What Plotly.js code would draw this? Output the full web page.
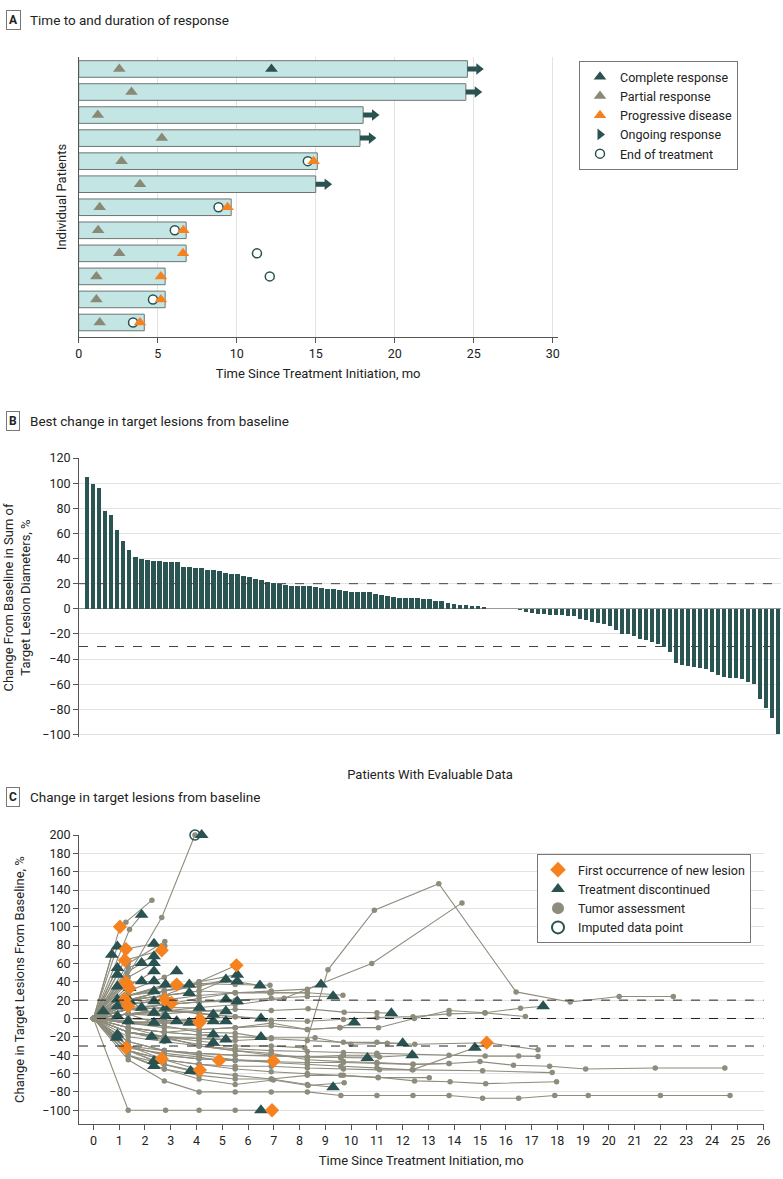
<!DOCTYPE html>
<html><head><meta charset="utf-8">
<script src="https://cdn.plot.ly/plotly-3.0.1.min.js"></script>
<style>body{margin:0;background:#fff}#chart{width:783px;height:1179px}</style>
</head><body><div id="chart"></div>
<script>
// ---------- Panel A: time to and duration of response ----------
const aRows = [1,2,3,4,5,6,7,8,9,10,11,12];
const aDuration = [24.6,24.5,18.0,17.8,15.1,15.0,9.65,6.8,6.8,5.47,5.47,4.15];
const aPartialMonth = [2.57,3.34,1.21,5.26,2.71,3.88,1.33,1.23,2.57,1.12,1.12,1.33];
const aCompleteRows = [1];
const aCompleteMonth = [12.2];
const aProgressRows = [5,7,8,9,10,11,12];
const aProgressMonth = [14.87,9.42,6.62,6.6,5.2,5.2,3.88];
const aEndRows = [5,7,8,9,10,11,12];
const aEndMonth = [14.5,8.85,6.08,11.28,12.09,4.7,3.44];
const aOngoingRows = [1,2,3,4,6];
const aXTicks = [0,5,10,15,20,25,30];

// ---------- Panel B: best change from baseline ----------
const bBestChange = [
 105,99,96,78,75,63,54,47,41,40,39,38,38,37.6,37.4,37,33.4,33,32.8,32.3,
 31,30.5,30,28.3,28,27.5,26.5,25,23.8,22.8,21.2,20.4,20.1,18.8,18.3,18.3,18,18,17.5,16.2,
 16,15.5,15,14,13.5,13.5,13.5,13,12,
 11,10.5,9.6,9,8.8,8.5,8.3,8,7.5,6.4,5.9,4.3,3.5,3.2,2.7,2.4,2.1,1.6,
 0,0,0,0,0,
 -1.3,-2.4,-3.5,-4,-4.5,-4.8,-5,-5.3,-5.6,-6.1,-8.3,-9,-10.4,-11,-12,-13.6,-16.8,-19.7,-20.3,-22,
 -24.3,-24.8,-26.4,-28,-30.1,-34.7,-43.5,-44.8,-45.3,-46,-46.7,-48,-50.4,-52.5,-54,-54.7,-55.2,-55.7,-58,-59.5,
 -72,-79.2,-86.7,-100
];
const bPatients = bBestChange.map((v,i)=>i+1);
const bThresholds = [20,-30];
const bYTicks = [-100,-80,-60,-40,-20,0,20,40,60,80,100,120];

// ---------- Panel C: change in target lesions over time ----------
const cMonths = [
 [0,1.35,2.75,4.1,5.5,6.9,8.2,9.1,10.9,13.4,16.4,18.5,20.4,22.5],
 [0,1.35,2.75,4.1,5.5,7.4,10.8,14.3],
 [0,1.35,2.75,4.1,5.5,6.9,8.3,9.6,11,12.4,13.8,15.1,16.5,17.9,19.2,22,24.7],
 [0,1.35,2.75,4.1,5.5,6.9,8.3,9.7,11,12.4,13.8,15.0,16.3,17.7,19.1,21.8,24.5],
 [0,1.35,2.75,4.1,5.5,6.9,8.3,9.6,11.05,12.46,13.84,15.22,17.97],
 [0,1.35,2.75,4.1,5.5,6.9,8.3,9.7,11.1,12.4,15.1,17.8],
 [0,1.35,2.75,4.1,5.5,6.9,8.3,9.56,11.06,12.45,13.8,15.19,16.57,17.45],
 [0,1.35,2.75,4.1,5.5,6.9,8.33,9.73,11,11.56],
 [0,1.35,2.75,4.1,5.5,6.9,8.3,9.68],
 [0,1.35,2.75,4.1,5.5,6.9,8.3,9.3],
 [0,1.35,2.75,4.1,5.5,6.9,8.3,8.83],
 [0,1.35,2.75,4.1,5.5,6.9,8.6,9.99,11.4,12.0],
 [0,1.35,2.75,4.1,5.5,6.9,8.3,9.7,11,12.47,15.26,17.25],
 [0,1.35,2.75,4.1,5.5,6.9,8.3,9.6,11.0,12.37,14.8],
 [0,1.35,2.75,4.1,5.5,6.9,8.3,9.6,10.63],
 [0,1.35,2.75,4.1,5.5,6.9,8.3,9.6,11.1,12.37],
 [0,1.35,2.75,4.1,5.5,6.9,8.3,9.3],
 [0,1.35,2.75,4.1,5.5,6.98,8.33,9.73],
 [0,1.35,2.8,4.1,5.5,6.5,6.93],
 [0,1.35,2.75,4.1,5.5,6.5],
 [0,1.35,2.75,4.1,5.5,6.5],
 [0,1.35,2.75,4.1,5.5,6.98],
 [0,1.35,2.75,4.1,5.5,6.9,8.3,9.56,10.12],
 [0,1.35,2.75,4.1,5.5,6.9,8.3,9.7,11.05,13.03],
 [0,1.35,2.75,4.1,5.5,6.9,8.3,9.7,11.0,12.4,13.8,15.2,16.5,17.25],
 [0,1.35,2.75,4.1,5.5,6.9,8.3,9.7,11,12.4,13.8,15.2,16.76],
 [0,1.35,2.75,4.1,5.5,6.9,8.3,9.7,11.0,12.4,13.8],
 [0,1.35,2.75,4.1,5.5,6.85,8.3],
 [0,1.35,2.75,4.1,5.5,6.85],
 [0,1.35,2.75,4.1,5.14,6.46],
 [0,1.35,2.75,4.1,5.5,6.9,8.3,9.7,11],
 [0,0.38],[0,0.93],[0,0.93],[0,0.93],[0,0.93],[0,0.93],[0,0.9],[0,1.41],[0,1.41],[0,1.35],
 [0,1.3,1.87],[0,1.3,1.87],[0,1.26,2.35],[0,1.35,2.35],[0,1.22,2.35],[0,1.35,2.35],[0,1.35,2.35],
 [0,1.35,2.35],[0,1.35,2.35],[0,1.35,2.35],[0,1.35,2.26],[0,1.35,2.35],[0,1.35,2.35],
 [0,1.35,2.75,3.23],[0,1.35,2.8],[0,1.35,2.8],[0,1.35,2.8],[0,1.35,2.8],[0,1.35,2.75,3.23],
 [0,1.35,2.75,3.72],[0,1.35,2.75,3.72],[0,1.35,2.75,3.72],[0,1.35,2.75,3.77],[0,1.35,2.75,4.11],
 [0,1.35,2.75,4.1,4.65],[0,1.35,2.75,4.1,4.65],[0,1.35,2.75,4.1,4.65],[0,1.35,2.75,4.1,4.65],
 [0,1.35,2.75,4.1,5.14],[0,1.35,2.75,4.1,5.14],[0,1.35,2.75,4.1,5.14],[0,1.35,2.75,4.1,5.14],[0,1.35,2.75,4.1,5.14],
 [0,1.35,2.75,4.1,5.58],[0,1.35,2.75,4.1,5.55],[0,1.35,2.75,4.1,5.58],[0,1.35,2.75,4.1,5.58],
 [0,1.35,2.75,3.03],[0,1.35,2.65],[0,1.26,2.75,4.1,4.88],[0,1.35,2.75,4.13],[0,1.35,2.75,4.13],
 [0,1.35,2.77],[0,1.35,3.23],[0,0.71],[0,0.93],[0,1.26,2.35],[0,1.22,2.65,2.77],[0,1.35,2.77],
 [0,0.93],[0,0.93],[0,1.3,1.87],[0,1.03,1.26,2.27],[0,1.4,1.87],[0,1.3,2.65,3.94,4.2]
];
const cChange = [
 [0,-15,-22,-28,-30,-30,-32,53,118,147,29,18,24,24],
 [0,5,8,12,15,22,60,126],
 [0,-45,-68,-80,-80,-80,-80,-84,-84,-84,-84,-87,-87,-84,-84,-84,-84],
 [0,-30,-40,-44,-46,-47,-48,-48,-49,-50,-49,-47,-51,-52,-55,-54,-54],
 [0,-35,-50,-58,-62,-66,-62,-62,-64,-68,-69,-71,-69],
 [0,-35,-45,-50,-52,-52,-54,-55,-56,-56,-57,-59],
 [0,-10,-15,-12,-10,-8,-12,-10,-10,0,8.7,6.2,11.2,13.4],
 [0,5,5,8,10,8.7,10.5,6.9,6.2,5.8],
 [0,15,20,25,28,28,28,25.4],
 [0,10,15,18,20,22,24,24.3],
 [0,10,15,22,28,30,32,37],
 [0,-10,-15,-18,-20,-21,-21,-28,-27,-27],
 [0,-15,-20,-22,-24,-22,-24,-26,-26,-28,-26.4,-34],
 [0,-25,-35,-40,-45,-48,-50,-52,-54,-56,-32],
 [0,-25,-35,-38,-40,-40,-42,-43,-43],
 [0,-30,-35,-38,-40,-41,-42,-42,-42,-40],
 [0,-40,-55,-62,-66,-66,-72,-75],
 [0,-40,-55,-66,-72,-67,-73,-70],
 [0,-100,-100,-100,-100,-100,-100],
 [0,-5,-8,-15,-16,-20.3],
 [0,5,10,5,2,0],
 [0,-30,-40,-44,-45,-46.4],
 [0,-5,-10,-12,-10,-5,-12,-9.8,-4.3],
 [0,-35,-45,-50,-55,-58,-60,-62,-64.5,-64.5],
 [0,-20,-25,-30,-33,-35,-36,-37,-38,-39,-40,-41,-41,-41.3],
 [0,-5,-3,0,2,-2,-3,-1,1,2,5,6,2.2],
 [0,-10,-20,-30,-35,-38,-45,-47,-48,-50,-49],
 [0,20,25,30,28,27.9,27.9],
 [0,20,30,38,37,36.2],
 [0,20,25,30,42,35.9],
 [0,-15,-20,-30,-35,-40,-42,-40,-40],
 [0,8],[0,13.4],[0,20.7],[0,2.5],[0,35],[0,-17.4],[0,-21],[0,33.3],[0,18.8],[0,-2.9],
 [0,20,11.6],[0,38,40.6],[0,39.5,40.6],[0,25,29.7],[0,20.7,18.8],[0,10,6.2],[0,5,-4.7],
 [0,55,67.8],[0,45,60.5],[0,35,51.4],[0,-15,-19.9],[0,-35,-46.4],[0,-40,-51.8],
 [0,30,45,51.4],[0,25,37],[0,10,11.6],[0,5,2.5],[0,-15,-23.6],[0,0,-2,-2.9],
 [0,25,30,37],[0,20,25,27.9],[0,-3,-5,-4.7],[0,-40,-50,-57.2],[0,10,12,11.6],
 [0,5,8,6,4.3],[0,0,-2,-3,-2.9],[0,-10,-15,-18,-17.4],[0,-15,-20,-25,-26.4],
 [0,20,30,35,42.4],[0,10,15,18,20.7],[0,5,8,8,8],[0,-5,-5,-3,-2.9],[0,-15,-20,-22,-22.8],
 [0,20,30,40,47.8],[0,15,25,40,58],[0,25,35,38,40.6],[0,12,15,18,18.8],
 [0,10,15,17],[0,-30,-43.8],[0,-31.9,-38,-42,-45.7],[0,-35,-45,-56.2],[0,-5,-3,-1],
 [0,15,20.7],[0,25,37],[0,69.6],[0,78.6],[0,75.7,81.5],[0,63.4,74.3,79],[0,60,84],
 [0,55],[0,47.8],[0,50,60.5],[0,100,105,129],[0,97,113],[0,45,110,200,200]
];
const cDiscMonth = [4.2,1.87,0.71,0.93,2.35,0.93,0.93,1.87,2.35,2.35,2.35,2.35,2.35,1.87,3.23,2.8,3.72,3.72,0.38,1.41,1.41,1.87,0.93,0.93,0.93,0.93,1.35,2.35,2.35,2.35,2.8,2.8,3.23,3.72,4.11,4.65,4.65,5.14,5.14,5.14,5.14,5.58,5.58,5.58,6.46,6.5,6.5,6.5,0.93,0.9,2.26,2.8,2.35,2.35,3.77,4.65,4.65,5.14,8.83,9.3,9.3,10.12,10.63,11.56,12.0,12.37,14.8,17.45];
const cDiscChange = [200,113,69.6,78.6,81.5,55,47.8,60.5,67.8,60.5,51.4,40.6,29.7,40.6,51.4,37,37,27.9,8,33.3,18.8,11.6,13.4,20.7,2.5,35,-2.9,18.8,6.2,-4.7,11.6,2.5,-2.9,-4.7,11.6,4.3,-2.9,42.4,20.7,8,-2.9,47.8,40.6,18.8,35.9,0,-20.3,-100,-17.4,-21,-19.9,-23.6,-46.4,-51.8,-57.2,-26.4,-17.4,-22.8,37,24.3,-75,-4.3,-43,5.8,-27,-40,-32,13.4];
const cLesionMonth = [1.03,1.26,1.22,2.65,1.26,1.3,1.4,3.23,3.03,2.77,4.13,4.11,1.26,2.65,4.88,4.13,6.98,6.93,5.55,1.22,1.35,15.26];
const cLesionChange = [100,75.7,63.4,74.3,39.5,38,33,37,17,20.7,-1,-4.7,-31.9,-43.8,-45.7,-56.2,-46.4,-100,58,20.7,13.4,-26.4];
const cImputedMonth = [3.94];
const cImputedChange = [200];
const cThresholds = [20,0,-30];
const cXTicks = Array.from({length:27},(v,i)=>i);
const cYTicks = [-100,-80,-60,-40,-20,0,20,40,60,80,100,120,140,160,180,200];

// ---------- colours ----------
const TEAL='#2a5250', GREY='#8a8876', ORANGE='#f5821f', BARA='#c3e6e4', LINEC='#8e8c7c', GRID='#e3e3e3', AX='#555555';
const FONT='Roboto, "Open Sans", sans-serif';

const W=783, H=1179;
const px = v => v/W, py = v => 1 - v/H;

const traces = [];
// Panel A
traces.push({type:'bar', orientation:'h', x:aDuration, y:aRows, base:0, width:0.72,
  marker:{color:BARA, line:{color:'#6d7473', width:1}}, xaxis:'x', yaxis:'y', showlegend:false, hoverinfo:'skip'});
const shaftX=[], shaftY=[], headX=[], headY=[];
aOngoingRows.forEach(r=>{ const e=aDuration[r-1]; shaftX.push(e, e+0.6, null); shaftY.push(r,r,null); headX.push(e+0.72); headY.push(r); });
traces.push({type:'scatter', mode:'lines', x:shaftX, y:shaftY, line:{color:TEAL,width:5}, xaxis:'x', yaxis:'y', showlegend:false, hoverinfo:'skip', cliponaxis:false});
traces.push({type:'scatter', mode:'markers', name:'Ongoing response', x:headX, y:headY, marker:{symbol:'triangle-right', size:10, color:TEAL},
  xaxis:'x', yaxis:'y', legend:'legend', legendrank:4, cliponaxis:false});
traces.push({type:'scatter', mode:'markers', name:'End of treatment', x:aEndMonth, y:aEndRows,
  marker:{symbol:'circle', size:9, color:'#ffffff', line:{color:TEAL,width:1.5}}, xaxis:'x', yaxis:'y', legend:'legend', legendrank:5});
traces.push({type:'scatter', mode:'markers', name:'Partial response', x:aPartialMonth, y:aRows,
  marker:{symbol:'triangle-up', size:11, color:GREY}, xaxis:'x', yaxis:'y', legend:'legend', legendrank:2});
traces.push({type:'scatter', mode:'markers', name:'Complete response', x:aCompleteMonth, y:aCompleteRows,
  marker:{symbol:'triangle-up', size:11, color:TEAL}, xaxis:'x', yaxis:'y', legend:'legend', legendrank:1});
traces.push({type:'scatter', mode:'markers', name:'Progressive disease', x:aProgressMonth, y:aProgressRows,
  marker:{symbol:'triangle-up', size:11, color:ORANGE}, xaxis:'x', yaxis:'y', legend:'legend', legendrank:3, cliponaxis:false});

// Panel B
traces.push({type:'bar', x:bPatients, y:bBestChange, width:0.72, marker:{color:'#2b5552'}, xaxis:'x2', yaxis:'y2', showlegend:false, hoverinfo:'y'});

// Panel C
const lx=[], ly=[], dx=[], dy=[];
cMonths.forEach((m,i)=>{ m.forEach((t,j)=>{ lx.push(t); ly.push(cChange[i][j]); dx.push(t); dy.push(cChange[i][j]); }); lx.push(null); ly.push(null); });
traces.push({type:'scatter', mode:'lines', x:lx, y:ly, line:{color:LINEC,width:1.1}, xaxis:'x3', yaxis:'y3', showlegend:false, hoverinfo:'skip', cliponaxis:false});
traces.push({type:'scatter', mode:'markers', name:'Tumor assessment', x:dx, y:dy, marker:{size:5.5, color:LINEC}, xaxis:'x3', yaxis:'y3', legend:'legend2', legendrank:3, cliponaxis:false});
traces.push({type:'scatter', mode:'markers', name:'Imputed data point', x:cImputedMonth, y:cImputedChange,
  marker:{symbol:'circle', size:10, color:'rgba(0,0,0,0)', line:{color:TEAL,width:1.5}}, xaxis:'x3', yaxis:'y3', legend:'legend2', legendrank:4, cliponaxis:false});
traces.push({type:'scatter', mode:'markers', name:'Treatment discontinued', x:cDiscMonth, y:cDiscChange,
  marker:{symbol:'triangle-up', size:12, color:TEAL}, xaxis:'x3', yaxis:'y3', legend:'legend2', legendrank:2, cliponaxis:false});
traces.push({type:'scatter', mode:'markers', name:'First occurrence of new lesion', x:cLesionMonth, y:cLesionChange,
  marker:{symbol:'diamond', size:11, color:ORANGE}, xaxis:'x3', yaxis:'y3', legend:'legend2', legendrank:1, cliponaxis:false});

const shapes = [];
bThresholds.forEach(v=>shapes.push({type:'line', xref:'x2 domain', x0:0, x1:1, yref:'y2', y0:v, y1:v, line:{color:'#444', width:1, dash:'dash'}}));
cThresholds.forEach(v=>shapes.push({type:'line', xref:'x3 domain', x0:0, x1:1, yref:'y3', y0:v, y1:v, line:{color:'#222', width:1, dash:'dash'}}));

const annotations = [];
[['A',20,'Time to and duration of response'],['B',421,'Best change in target lesions from baseline'],['C',797,'Change in target lesions from baseline']].forEach(([l,y,t])=>{
  annotations.push({xref:'paper', yref:'paper', x:px(13), y:py(y), text:'<b>'+l+'</b>', showarrow:false, xanchor:'center', yanchor:'middle',
    font:{family:FONT, size:12, color:'#222'}, bordercolor:'#777', borderwidth:1, borderpad:2, bgcolor:'#fff'});
  annotations.push({xref:'paper', yref:'paper', x:px(28), y:py(y), text:t, showarrow:false, xanchor:'left', yanchor:'middle',
    font:{family:FONT, size:13.5, color:'#222'}});
});

const axBase = {showline:true, linecolor:AX, linewidth:1, tickcolor:AX, ticks:'outside', ticklen:5, zeroline:false,
  tickfont:{family:FONT, size:12.5, color:'#222'}, gridcolor:GRID, fixedrange:true};
const titleFont = {family:FONT, size:13, color:'#222'};

const layout = {
  width:W, height:H, margin:{l:0,r:0,t:0,b:0}, paper_bgcolor:'#fff', plot_bgcolor:'#fff',
  font:{family:FONT, color:'#222'}, bargap:0,
  xaxis:Object.assign({}, axBase, {domain:[px(78.7), px(557.5)], range:[0,30.3], tickvals:aXTicks, showgrid:true, anchor:'y',
    title:{text:'Time Since Treatment Initiation, mo', font:titleFont, standoff:8}}),
  yaxis:Object.assign({}, axBase, {domain:[py(337), py(57)], range:[12.63,0.48], showticklabels:false, ticks:'', showgrid:false, anchor:'x',
    title:{text:'Individual Patients', font:titleFont, standoff:8}}),
  xaxis2:Object.assign({}, axBase, {domain:[px(79), px(781)], range:[-0.38,116.5], showticklabels:false, ticks:'', showline:false, showgrid:false, anchor:'y2',
    title:{text:'Patients With Evaluable Data', font:titleFont, standoff:32}}),
  yaxis2:Object.assign({}, axBase, {domain:[py(737), py(458)], range:[-102,120], tickvals:bYTicks, showgrid:true, zeroline:true, zerolinecolor:'#999', zerolinewidth:1, anchor:'x2',
    title:{text:'Change From Baseline in Sum of<br>Target Lesion Diameters, %', font:titleFont, standoff:8}}),
  xaxis3:Object.assign({}, axBase, {domain:[px(79), px(763.5)], range:[-0.56,26], tickvals:cXTicks, showgrid:false, anchor:'y3',
    title:{text:'Time Since Treatment Initiation, mo', font:titleFont, standoff:8}}),
  yaxis3:Object.assign({}, axBase, {domain:[py(1124), py(835)], range:[-115,200], tickvals:cYTicks, showgrid:true, anchor:'x3',
    title:{text:'Change in Target Lesions From Baseline, %', font:titleFont, standoff:14}}),
  legend:{x:px(579), y:py(61), xanchor:'left', yanchor:'top', bordercolor:'#777', borderwidth:1, bgcolor:'#fff',
    font:{family:FONT, size:12.5, color:'#222'}, tracegroupgap:0, itemwidth:30},
  legend2:{x:px(537), y:py(854), xanchor:'left', yanchor:'top', bordercolor:'#777', borderwidth:1, bgcolor:'#fff',
    font:{family:FONT, size:12.5, color:'#222'}, tracegroupgap:0, itemwidth:30, itemsizing:'constant'},
  shapes:shapes, annotations:annotations, showlegend:true
};

Plotly.newPlot('chart', traces, layout, {displayModeBar:false, staticPlot:true});
</script></body></html>
